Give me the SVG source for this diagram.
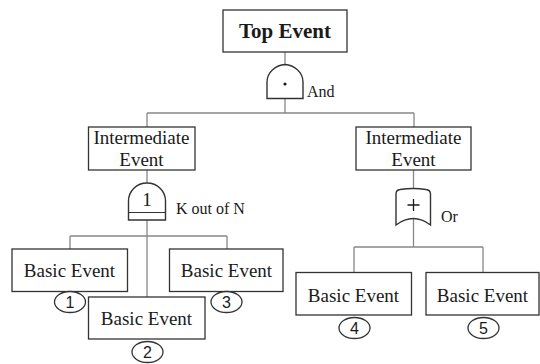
<svg xmlns="http://www.w3.org/2000/svg" width="540" height="364" viewBox="0 0 540 364">
<style>
.box{fill:#fff;stroke:#333;stroke-width:1.3}
.gate{fill:#fff;stroke:#333;stroke-width:1.4}
.ln{fill:none;stroke:#888;stroke-width:1.3}
.circ{fill:#fff;stroke:#333;stroke-width:1.3}
</style>
<rect width="540" height="364" fill="#fff"/>
<g id="connectors">
<path class="ln" d="M285,52V64 M285,99V113 M147,113H414 M147,113V127 M414,113V127"/>
<path class="ln" d="M147,170V183 M147,220V297 M70,236H227 M70,236V249 M227,236V249"/>
<path class="ln" d="M413.5,170V189 M413.5,218V247 M354,247H483 M354,247V272 M483,247V272"/>
</g>
<g font-family="'Liberation Serif', serif" fill="#1a1a1a">
<g id="top">
<rect class="box" x="223" y="10" width="124" height="42"/>
<text x="285" y="38" font-size="21" font-weight="bold" text-anchor="middle">Top Event</text>
</g>
<g id="and-gate">
<path class="gate" d="M267,98.5V82C267,72 276,65 285,64.5C294,65 303,72 303,82V98.5Z"/>
<circle cx="285" cy="84" r="1.6" fill="#1a1a1a"/>
<text x="307" y="97" font-size="16">And</text>
</g>
<g id="int1">
<rect class="box" x="88.5" y="127" width="106.5" height="43"/>
<text x="141.5" y="144" font-size="19" text-anchor="middle">Intermediate</text>
<text x="141.5" y="166" font-size="19" text-anchor="middle">Event</text>
</g>
<g id="int2">
<rect class="box" x="356" y="127" width="115" height="43"/>
<text x="413.5" y="144" font-size="19" text-anchor="middle">Intermediate</text>
<text x="413.5" y="166" font-size="19" text-anchor="middle">Event</text>
</g>
<g id="kn-gate">
<path class="gate" d="M128.5,220V201A18.5,18 0 0 1 165.5,201V220Z"/>
<line x1="128.5" y1="212.5" x2="165.5" y2="212.5" stroke="#333" stroke-width="1.2"/>
<text x="147" y="206" font-size="19" text-anchor="middle">1</text>
<text x="176" y="214" font-size="16">K out of N</text>
</g>
<g id="or-gate">
<path class="gate" d="M396,225V194Q396,190 400,189.5Q413.5,187.5 426,189.5Q430.5,190 430.5,194V225Q413.5,212 396,225Z"/>
<path d="M413.5,199V211M407.5,205H419.5" stroke="#1a1a1a" stroke-width="1.3" fill="none"/>
<text x="441" y="222" font-size="16">Or</text>
</g>
<g id="be1">
<rect class="box" x="12" y="249" width="115.5" height="42.5"/>
<text x="69.5" y="277" font-size="19" text-anchor="middle">Basic Event</text>
<ellipse class="circ" cx="70" cy="302" rx="15.5" ry="10.5"/>
<text x="70" y="307.5" font-size="16" font-family="'Liberation Sans', sans-serif" text-anchor="middle">1</text>
</g>
<g id="be3">
<rect class="box" x="169.5" y="249" width="113.5" height="42.5"/>
<text x="226.5" y="277" font-size="19" text-anchor="middle">Basic Event</text>
<ellipse class="circ" cx="226.5" cy="302" rx="15.5" ry="10.5"/>
<text x="226.5" y="307.5" font-size="16" font-family="'Liberation Sans', sans-serif" text-anchor="middle">3</text>
</g>
<g id="be2">
<rect class="box" x="88.5" y="297" width="116.5" height="42"/>
<text x="146.5" y="325" font-size="19" text-anchor="middle">Basic Event</text>
<ellipse class="circ" cx="147.5" cy="352" rx="15.5" ry="10.5"/>
<text x="147.5" y="357.5" font-size="16" font-family="'Liberation Sans', sans-serif" text-anchor="middle">2</text>
</g>
<g id="be4">
<rect class="box" x="296" y="272.5" width="115.5" height="42.5"/>
<text x="353.5" y="301.5" font-size="19" text-anchor="middle">Basic Event</text>
<ellipse class="circ" cx="354.5" cy="328" rx="15.5" ry="10.5"/>
<text x="354.5" y="333.5" font-size="16" font-family="'Liberation Sans', sans-serif" text-anchor="middle">4</text>
</g>
<g id="be5">
<rect class="box" x="426" y="272.5" width="113" height="42.5"/>
<text x="482.5" y="301.5" font-size="19" text-anchor="middle">Basic Event</text>
<ellipse class="circ" cx="483.5" cy="328" rx="15.5" ry="10.5"/>
<text x="483.5" y="333.5" font-size="16" font-family="'Liberation Sans', sans-serif" text-anchor="middle">5</text>
</g>
</g>
</svg>
